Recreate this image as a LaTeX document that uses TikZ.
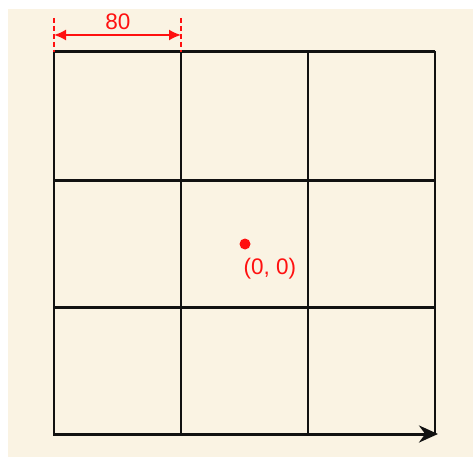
\documentclass[tikz,border=0pt]{standalone}
\usepackage{fontspec}
\setmainfont{Liberation Sans}
\usetikzlibrary{arrows.meta}
\definecolor{bg}{HTML}{FAF3E3}
\definecolor{ink}{HTML}{111111}
\definecolor{redc}{HTML}{FF1010}
\tikzset{
  hline/.style={ink, line width=3pt},
  vline/.style={ink, line width=2.2pt},
  dimtick/.style={redc, line width=1.6pt, dash pattern=on 5pt off 3pt},
  dimarrow/.style={redc, line width=1.8pt, {Latex[length=12pt,width=11pt]}-{Latex[length=12pt,width=11pt]}},
  lbl/.style={text=redc, font=\fontsize{22.5}{25}\selectfont, inner sep=0pt},
}
\begin{document}
\begin{tikzpicture}[x=1pt,y=-1pt]
\useasboundingbox (0,0) rectangle (473,457);
\fill[white] (0,0) rectangle (473,457);
\fill[bg] (8,9) rectangle (473,457);
% horizontal lines
\draw[hline] (53,52) -- (435,52);
\draw[hline] (53,180) -- (435,180);
\draw[hline] (53,307) -- (435,307);
% vertical lines
\draw[vline] (54,52) -- (54,434);
\draw[vline] (181,52) -- (181,434);
\draw[vline] (308,52) -- (308,434);
\draw[vline] (435,51) -- (435,434);
% bottom axis with arrow
\coordinate (ax0) at (53,434);
\coordinate (ax1) at (438,434);
\draw[hline, -{Stealth[length=19pt,width=17pt]}] (ax0) -- (ax1);
% dimension
\coordinate (t0) at (54,18);
\coordinate (t1) at (181,18);
\draw[dimtick] (t0) -- (54,52);
\draw[dimtick] (t1) -- (181,52);
\coordinate (d0) at (54,35);
\coordinate (d1) at (181,35);
\draw[dimarrow] (d0) -- (d1);
\node[lbl] (dimlabel) at (118,22) {80};
% origin
\fill[redc] (245,244) circle (5.5pt);
\node[lbl] (origin) at (270,269) {(0, 0)};
\end{tikzpicture}
\end{document}
